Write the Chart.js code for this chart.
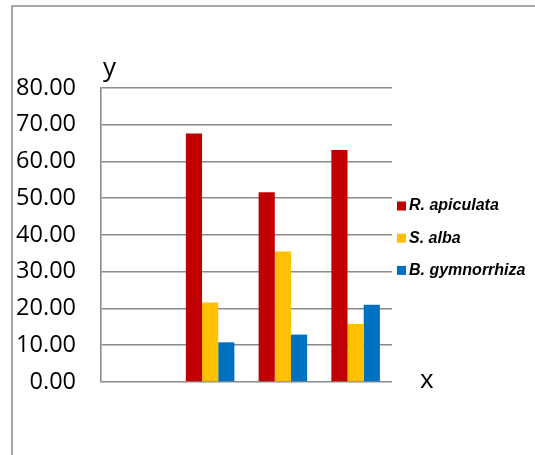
<!DOCTYPE html>
<html>
<head>
    <title>Bar chart</title>
    <script src="https://cdn.jsdelivr.net/npm/chart.js"></script>
    <style>
        html, body { margin: 0; padding: 0; background: #fff; }
        #wrap { width: 535px; height: 455px; }
    </style>
</head>
<body>
    <div id="wrap"><canvas id="chart" width="535" height="455"></canvas></div>

    <script>
        // categories (first slot is empty in the original)
        var categories = ['', '', '', ''];
        var seriesNames = ['R. apiculata', 'S. alba', 'B. gymnorrhiza'];
        var rApiculata = [null, 67.6, 51.6, 63.1];
        var sAlba = [null, 21.6, 35.5, 15.8];
        var bGymnorrhiza = [null, 10.8, 12.9, 21.0];
        var yTicks = [0, 10, 20, 30, 40, 50, 60, 70, 80];
        var colors = ['#C00000', '#FFC000', '#0070C0'];

        var gridColor = '#8a8a8a';

        // frame, axis letters and legend drawn on the canvas
        var extras = {
            id: 'extras',
            beforeDraw: function (chart) {
                var ctx = chart.ctx;
                ctx.save();
                ctx.fillStyle = '#fff';
                ctx.fillRect(0, 0, chart.width, chart.height);
                ctx.strokeStyle = '#8a8a8a';
                ctx.lineWidth = 1.5;
                ctx.strokeRect(12, 6, 700, 700);
                ctx.restore();
            },
            afterDraw: function (chart) {
                var ctx = chart.ctx;
                var area = chart.chartArea;
                var y = chart.scales.y;
                ctx.save();
                ctx.fillStyle = '#000';
                ctx.font = '26px "Open Sans"';
                ctx.textBaseline = 'alphabetic';
                ctx.textAlign = 'left';
                ctx.fillText('y', area.left + 2, area.top - 12);
                ctx.fillText('x', area.right + 28, y.getPixelForValue(0) + 6);

                ctx.font = 'italic bold 16px "Liberation Sans"';
                ctx.textBaseline = 'middle';
                for (var i = 0; i < seriesNames.length; i++) {
                    var cy = 206 + i * 32.2;
                    ctx.fillStyle = colors[i];
                    ctx.fillRect(397, cy - 4.5, 9, 9);
                    ctx.fillStyle = '#000';
                    ctx.fillText(seriesNames[i], 409, cy);
                }
                ctx.restore();
            }
        };

        var ctx = document.getElementById('chart').getContext('2d');
        new Chart(ctx, {
            type: 'bar',
            data: {
                labels: categories,
                datasets: [
                    { label: seriesNames[0], data: rApiculata, backgroundColor: colors[0] },
                    { label: seriesNames[1], data: sAlba, backgroundColor: colors[1] },
                    { label: seriesNames[2], data: bGymnorrhiza, backgroundColor: colors[2] }
                ]
            },
            options: {
                responsive: false,
                animation: false,
                categoryPercentage: 0.667,
                barPercentage: 1.0,
                layout: {
                    padding: { top: 88, right: 143, bottom: 73, left: 0 }
                },
                plugins: {
                    legend: { display: false },
                    tooltip: { enabled: false }
                },
                scales: {
                    x: {
                        ticks: { display: false },
                        grid: { display: false },
                        border: { display: false },
                        afterFit: function (scale) { scale.height = 0; }
                    },
                    y: {
                        min: 0,
                        max: 80,
                        afterBuildTicks: function (scale) {
                            scale.ticks = yTicks.map(function (v) { return { value: v }; });
                        },
                        afterFit: function (scale) { scale.width = 101; },
                        ticks: {
                            padding: 25,
                            color: '#000',
                            font: { family: 'Open Sans', size: 23.5 },
                            callback: function (v) { return Number(v).toFixed(2); }
                        },
                        grid: {
                            color: gridColor,
                            lineWidth: 1.6,
                            drawTicks: false
                        },
                        border: { display: true, color: gridColor, width: 1.6 }
                    }
                }
            },
            plugins: [extras]
        });
    </script>
</body>
</html>
